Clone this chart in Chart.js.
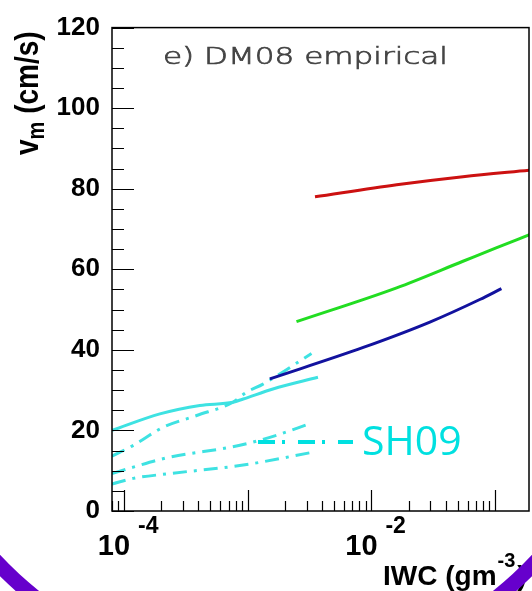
<!DOCTYPE html>
<html>
<head>
<meta charset="utf-8">
<title>DM08 empirical</title>
<script src="https://cdn.jsdelivr.net/npm/chart.js@4/dist/chart.umd.min.js"></script>
<style>
  html, body { margin: 0; padding: 0; background: #fff; }
  #wrap { width: 532px; height: 591px; }
</style>
</head>
<body>
<div id="wrap"><canvas id="vmChart" width="532" height="591"></canvas></div>
<script>
// IWC (g m^-3) against mean fall speed v_m (cm/s)
const redIwc = [3.5e-3, 0.016, 0.055, 0.19];
const redVm = [78.0, 81.0, 83.0, 84.6];

const greenIwc = [2.48e-3, 0.016, 0.055, 0.102, 0.19];
const greenVm = [47.0, 55.4, 62.0, 65.3, 68.6];

const blueIwc = [1.51e-3, 8.6e-3, 0.0297, 0.0752, 0.1125];
const blueVm = [32.8, 40.6, 46.9, 52.5, 55.2];

// SH09 curves: one solid, three dash-dot
const cyanIwc = [8.0e-5, 1.95e-4, 4.1e-4, 7.6e-4, 9.2e-4, 1.6e-3, 3.7e-3];
const cyanVm = [20.0, 24.1, 26.2, 27.0, 27.8, 30.3, 33.2];

const sh09aIwc = [8.0e-5, 1.19e-4, 2.08e-4, 3.87e-4, 7.6e-4, 9.8e-4, 1.33e-3, 3.28e-3];
const sh09aVm = [13.6, 16.3, 20.8, 23.7, 27.0, 29.5, 31.5, 39.1];

const sh09bIwc = [8.0e-5, 1.19e-4, 2.21e-4, 8.65e-4, 1.71e-3, 3.18e-3];
const sh09bVm = [9.3, 10.9, 13.2, 16.3, 18.8, 21.7];

const sh09cIwc = [8.0e-5, 1.19e-4, 2.36e-4, 9.2e-4, 3.38e-3];
const sh09cVm = [6.7, 8.1, 9.3, 11.4, 14.6];

// axis ranges and labelled decades
const xMin = 8e-5, xMax = 0.188;
const yMin = 0, yMax = 120, yStep = 20, yMinorStep = 5;
const xLabelExps = [-4, -2];

const CYAN = '#3ee2e2';
const DASHDOT = [14, 7, 3, 7];

function pts(xs, ys) {
    return xs.map((v, i) => ({ x: v, y: ys[i] }));
}

function curve(xs, ys, color, dash) {
    return {
        data: pts(xs, ys),
        borderColor: color,
        borderWidth: 3,
        borderDash: dash || [],
        pointRadius: 0,
        cubicInterpolationMode: 'monotone',
        fill: false
    };
}

// frame, inward ticks, log tick labels, titles, legend entry
const decorations = {
    id: 'decorations',
    afterDraw(chart) {
        const { ctx, chartArea: a, scales: { x, y } } = chart;
        ctx.save();

        ctx.strokeStyle = '#000';
        ctx.lineWidth = 1.5;
        ctx.strokeRect(a.left, a.top, a.right - a.left, a.bottom - a.top);

        ctx.lineWidth = 1.2;
        ctx.beginPath();
        for (let v = yMin; v <= yMax; v += yMinorStep) {
            const py = Math.round(y.getPixelForValue(v)) + 0.5;
            const len = v % yStep === 0 ? 22 : 12;
            ctx.moveTo(a.left, py);
            ctx.lineTo(a.left + len, py);
        }
        for (let d = -5; d <= 0; d++) {
            for (let m = 1; m <= 9; m++) {
                const v = m * Math.pow(10, d);
                if (v < xMin || v > xMax) continue;
                const px = Math.round(x.getPixelForValue(v)) + 0.5;
                const len = m === 1 ? 21 : 10;
                ctx.moveTo(px, a.bottom);
                ctx.lineTo(px, a.bottom - len);
            }
        }
        ctx.stroke();

        // x tick labels as 10^n
        ctx.fillStyle = '#000';
        xLabelExps.forEach(e => {
            const px = x.getPixelForValue(Math.pow(10, e));
            ctx.font = 'bold 29px "Liberation Sans", Arial, sans-serif';
            ctx.textAlign = 'center';
            ctx.textBaseline = 'alphabetic';
            ctx.fillText('10', px - 10, 555);
            ctx.font = 'bold 23px "Liberation Sans", Arial, sans-serif';
            ctx.textAlign = 'left';
            ctx.fillText(String(e), px + 14, 533);
        });

        // x axis title
        ctx.font = 'bold 28px "Liberation Sans", Arial, sans-serif';
        ctx.textAlign = 'left';
        ctx.fillText('IWC (gm', 383, 585);
        const w = ctx.measureText('IWC (gm').width;
        ctx.font = 'bold 20px "Liberation Sans", Arial, sans-serif';
        ctx.fillText('-3', 383 + w + 1, 567);
        const w2 = ctx.measureText('-3').width;
        ctx.font = 'bold 28px "Liberation Sans", Arial, sans-serif';
        ctx.fillText(')', 383 + w + w2 + 3, 585);

        // y axis title, rotated
        ctx.save();
        ctx.translate(38, 155);
        ctx.rotate(-Math.PI / 2);
        ctx.scale(1, 1.2);
        ctx.font = 'bold 28px "Liberation Sans", Arial, sans-serif';
        ctx.fillText('v', 0, 0);
        let off = ctx.measureText('v').width;
        ctx.font = 'bold 20px "Liberation Sans", Arial, sans-serif';
        ctx.fillText('m', off, 5);
        off += ctx.measureText('m').width;
        ctx.font = 'bold 28px "Liberation Sans", Arial, sans-serif';
        ctx.fillText(' (cm/s)', off, 0);
        ctx.restore();

        // panel label
        ctx.save();
        ctx.font = '200 23px "DejaVu Sans", sans-serif';
        ctx.fillStyle = '#444';
        ctx.strokeStyle = '#444';
        ctx.lineWidth = 0.7;
        const label = 'e) DM08 empirical';
        const lw = ctx.measureText(label).width;
        ctx.translate(163, 64);
        ctx.scale(285 / lw, 1);
        ctx.fillText(label, 0, 0);
        ctx.strokeText(label, 0, 0);
        ctx.restore();

        // legend entry for the dash-dot curves
        ctx.strokeStyle = '#00e0e0';
        ctx.lineWidth = 4;
        ctx.setLineDash([17, 7, 3, 13]);
        ctx.beginPath();
        ctx.moveTo(258, 442);
        ctx.lineTo(353, 442);
        ctx.stroke();
        ctx.setLineDash([]);
        ctx.font = '41px "Open Sans", sans-serif';
        ctx.fillStyle = '#00e0e0';
        ctx.fillText('SH09', 362, 455);

        // slide ring around the figure
        ctx.strokeStyle = '#6600cc';
        ctx.lineWidth = 15;
        ctx.beginPath();
        ctx.arc(266, 307, 371, 0.6, Math.PI - 0.6);
        ctx.stroke();

        ctx.restore();
    }
};

new Chart(document.getElementById('vmChart'), {
    type: 'line',
    data: {
        datasets: [
            curve(redIwc, redVm, '#cc1111'),
            curve(greenIwc, greenVm, '#22dd22'),
            curve(blueIwc, blueVm, '#12129e'),
            curve(cyanIwc, cyanVm, CYAN),
            curve(sh09aIwc, sh09aVm, CYAN, DASHDOT),
            curve(sh09bIwc, sh09bVm, CYAN, DASHDOT),
            curve(sh09cIwc, sh09cVm, CYAN, DASHDOT)
        ]
    },
    options: {
        responsive: false,
        animation: false,
        layout: { padding: { top: 22, right: 3, left: 0, bottom: 0 } },
        plugins: {
            legend: { display: false },
            tooltip: { enabled: false }
        },
        scales: {
            x: {
                type: 'logarithmic',
                min: xMin,
                max: xMax,
                grid: { display: false, drawTicks: false },
                border: { display: false },
                ticks: { display: false },
                afterFit(scale) { scale.height = 80; }
            },
            y: {
                min: yMin,
                max: yMax,
                grid: { display: false, drawTicks: false },
                border: { display: false },
                ticks: {
                    stepSize: yStep,
                    padding: 12,
                    color: '#000',
                    font: { family: '"Liberation Sans", Arial, sans-serif', size: 26, weight: 'bold' }
                },
                afterFit(scale) { scale.width = 112; }
            }
        }
    },
    plugins: [decorations]
});
</script>
</body>
</html>
